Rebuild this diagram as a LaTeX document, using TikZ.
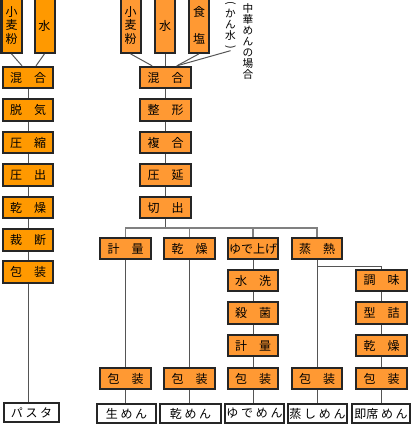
\documentclass[tikz,border=0pt]{standalone}
\usepackage{fontspec}
\usepackage{graphicx}
\usepackage{tikz}
\usetikzlibrary{positioning, calc}
\newfontfamily\jpfont{Noto Sans CJK JP}
\definecolor{pastaOrange}{RGB}{255,153,0}
\definecolor{menOrange}{RGB}{255,153,51}
\definecolor{lineGray}{RGB}{85,85,85}
\definecolor{barGray}{RGB}{128,128,128}

\begin{document}
\begin{tikzpicture}[x=0.75pt, y=-0.75pt,
      proc/.style={draw=black!85, line width=1.5pt, minimum width=38pt, minimum height=16pt,
      inner sep=0pt, font=\jpfont\fontsize{9}{10}\selectfont},
      raw/.style={proc, minimum width=15pt, minimum height=41pt, align=center},
      prod/.style={draw=black!85, fill=white, line width=1.5pt, minimum height=14.5pt,
      inner xsep=1pt, inner ysep=0pt, font=\jpfont\fontsize{9}{10}\selectfont},
      note/.style={align=center, inner sep=0pt, font=\jpfont\fontsize{8}{8.2}\selectfont},
      link/.style={draw=lineGray, line width=0.75pt},
      bar/.style={draw=barGray, line width=1.1pt}
    ]
    \useasboundingbox (0,0) rectangle (416,428);

    % pasta
    \node[raw, fill=pastaOrange] (flourL) at (11.5,25.5) {小\\麦\\粉};
    \node[raw, fill=pastaOrange] (waterL) at (44.5,25.5) {水};
    \node[proc, fill=pastaOrange] (mixL) at (28,77.5) {混　合};
    \node[proc, fill=pastaOrange] (deair) at (28,110) {脱　気};
    \node[proc, fill=pastaOrange] (press) at (28,142.5) {圧　縮};
    \node[proc, fill=pastaOrange] (extrude) at (28,175) {圧　出};
    \node[proc, fill=pastaOrange] (dryL) at (28,207.5) {乾　燥};
    \node[proc, fill=pastaOrange] (cut) at (28,240) {裁　断};
    \node[proc, fill=pastaOrange] (packL) at (28,272) {包　装};
    \node[prod, minimum width=41.25pt] (pasta) at (31.5,412.5) {パ ス タ};

    % noodles
    \node[raw, fill=menOrange] (flourM) at (130.5,25.5) {小\\麦\\粉};
    \node[raw, fill=menOrange] (waterM) at (165,25.5) {水};
    \node[raw, fill=menOrange] (salt) at (199,25.5) {食\\[10pt]塩};
    \node[note] (kansui) at (230.5,26) {\rotatebox[origin=c]{-90}{(}\\か\\ん\\水\\\rotatebox[origin=c]{-90}{)}};
    \node[note] (chuka) at (248,41.5) {中\\華\\め\\ん\\の\\場\\合};
    \node[proc, fill=menOrange] (mixM) at (165.5,77.5) {混　合};
    \node[proc, fill=menOrange] (shape) at (165.5,110) {整　形};
    \node[proc, fill=menOrange] (laminate) at (165.5,142.5) {複　合};
    \node[proc, fill=menOrange] (roll) at (165.5,175) {圧　延};
    \node[proc, fill=menOrange] (slice) at (165.5,207.5) {切　出};
    \coordinate (fork) at (165.5,228);

    \node[proc, fill=menOrange] (weigh) at (125.5,248.5) {計　量};
    \node[proc, fill=menOrange] (dryM) at (189.5,248.5) {乾　燥};
    \node[proc, fill=menOrange] (boil) at (253,248.5) {ゆで上げ};
    \node[proc, fill=menOrange] (steam) at (317,248.5) {蒸　熱};

    \node[proc, fill=menOrange] (wash) at (253,280.5) {水　洗};
    \node[proc, fill=menOrange] (sterilize) at (253,313) {殺　菌};
    \node[proc, fill=menOrange] (weighB) at (253,345.5) {計　量};
    \node[proc, fill=menOrange] (season) at (381.5,280.5) {調　味};
    \node[proc, fill=menOrange] (mold) at (381.5,313) {型　詰};
    \node[proc, fill=menOrange] (dryI) at (381.5,345.5) {乾　燥};

    \node[proc, fill=menOrange] (packW) at (125.5,378.5) {包　装};
    \node[proc, fill=menOrange] (packD) at (189.5,378.5) {包　装};
    \node[proc, fill=menOrange] (packB) at (253,378.5) {包　装};
    \node[proc, fill=menOrange] (packS) at (317,378.5) {包　装};
    \node[proc, fill=menOrange] (packI) at (381.5,378.5) {包　装};

    \node[prod, minimum width=44.25pt] (namamen) at (126.5,413.5) {生 め ん};
    \node[prod, minimum width=45.75pt] (kanmen) at (190.5,413.5) {乾 め ん};
    \node[prod, minimum width=39.75pt] (yudemen) at (254.5,413.5) {ゆ で め ん};
    \node[prod, minimum width=42.75pt] (mushimen) at (317.5,413.5) {蒸 し め ん};
    \node[prod, minimum width=43.5pt] (sokuseki) at (381,413.5) {即席 め ん};

    % connectors
    \draw[link] (flourL.south) -- ([xshift=-4.5pt]mixL.north);
    \draw[link] (waterL.south) -- ([xshift=6pt]mixL.north);
    \draw[link] (flourM.south) -- ([xshift=-10pt]mixM.north);
    \draw[link] (waterM.south) -- (waterM.south |- mixM.north);
    \draw[link] (salt.south) -- ([xshift=8.5pt]mixM.north);
    \draw[link] (kansui.south) -- ([xshift=8.5pt]mixM.north);

    \foreach \a/\b in {mixL/deair, deair/press, press/extrude, extrude/dryL, dryL/cut, cut/packL,
      mixM/shape, shape/laminate, laminate/roll, roll/slice,
      weigh/packW, dryM/packD, boil/wash, wash/sterilize, sterilize/weighB, weighB/packB,
      steam/packS, season/mold, mold/dryI, dryI/packI} {
      \draw[link] (\a) -- (\b);
    }
    \foreach \a/\b in {packL/pasta, packW/namamen, packD/kanmen, packB/yudemen, packS/mushimen, packI/sokuseki} {
      \draw[link] (\a.south) -- (\a.south |- \b.north);
    }

    \draw[link] (slice.south) -- (fork);
    \draw[bar] (weigh.north) |- (fork) -| (steam.north);
    \draw[bar] (dryM.north) -- (dryM.north |- fork);
    \draw[bar] (boil.north) -- (boil.north |- fork);
    \draw[link] ([yshift=-4.5pt]steam.south) -| (season.north);
  \end{tikzpicture}
\end{document}
